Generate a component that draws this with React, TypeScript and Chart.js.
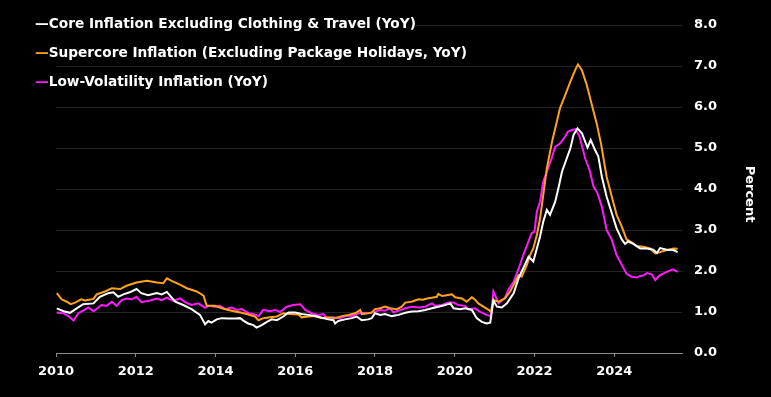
import React, { useEffect, useRef } from "react";
import { Chart, registerables } from "chart.js";

Chart.register(...registerables);

const FONT = "'DejaVu Sans', sans-serif";

const seriesNames = [
  "Core Inflation Excluding Clothing & Travel (YoY)",
  "Supercore Inflation (Excluding Package Holidays, YoY)",
  "Low-Volatility Inflation (YoY)",
];
const seriesColors = ["#ffffff", "#ffa31a", "#ff19ff"];

const xTickYears = [2010, 2012, 2014, 2016, 2018, 2020, 2022, 2024];
const yTickValues = [0, 1, 2, 3, 4, 5, 6, 7, 8];

const coreX = [2010.02, 2010.19, 2010.35, 2010.52, 2010.68, 2010.94, 2011.1, 2011.31, 2011.44, 2011.56, 2011.69, 2011.85, 2012.02, 2012.14, 2012.31, 2012.53, 2012.65, 2012.78, 2012.99, 2013.19, 2013.4, 2013.61, 2013.74, 2013.82, 2013.9, 2014.03, 2014.16, 2014.32, 2014.49, 2014.62, 2014.7, 2014.82, 2014.95, 2015.03, 2015.16, 2015.29, 2015.41, 2015.54, 2015.7, 2015.83, 2016.0, 2016.16, 2016.33, 2016.5, 2016.67, 2016.83, 2016.96, 2017.0, 2017.08, 2017.25, 2017.42, 2017.54, 2017.67, 2017.83, 2017.92, 2018.0, 2018.13, 2018.25, 2018.42, 2018.59, 2018.76, 2018.92, 2019.09, 2019.26, 2019.43, 2019.59, 2019.76, 2019.89, 2019.97, 2020.14, 2020.26, 2020.43, 2020.55, 2020.68, 2020.8, 2020.89, 2020.97, 2021.06, 2021.18, 2021.31, 2021.48, 2021.6, 2021.72, 2021.85, 2021.97, 2022.06, 2022.14, 2022.22, 2022.31, 2022.39, 2022.52, 2022.6, 2022.69, 2022.81, 2022.9, 2022.98, 2023.08, 2023.19, 2023.33, 2023.41, 2023.52, 2023.6, 2023.69, 2023.81, 2023.94, 2024.06, 2024.19, 2024.27, 2024.35, 2024.48, 2024.65, 2024.81, 2024.98, 2025.07, 2025.15, 2025.32, 2025.48, 2025.59];
const coreY = [1.09, 1.02, 0.98, 1.09, 1.19, 1.21, 1.37, 1.46, 1.48, 1.37, 1.43, 1.48, 1.56, 1.46, 1.41, 1.46, 1.43, 1.49, 1.25, 1.17, 1.07, 0.93, 0.7, 0.78, 0.74, 0.82, 0.85, 0.84, 0.84, 0.85, 0.79, 0.72, 0.68, 0.62, 0.68, 0.76, 0.82, 0.8, 0.89, 0.99, 0.99, 0.95, 0.93, 0.9, 0.86, 0.82, 0.8, 0.72, 0.78, 0.82, 0.85, 0.89, 0.8, 0.82, 0.85, 0.97, 0.93, 0.95, 0.9, 0.93, 0.98, 1.01, 1.02, 1.05, 1.09, 1.13, 1.17, 1.21, 1.09, 1.07, 1.09, 1.05, 0.85, 0.76, 0.72, 0.74, 1.28, 1.13, 1.11, 1.21, 1.46, 1.82, 2.07, 2.35, 2.23, 2.55, 2.84, 3.2, 3.49, 3.37, 3.69, 4.02, 4.42, 4.75, 4.99, 5.32, 5.48, 5.36, 5.01, 5.2, 4.95, 4.8, 4.3, 3.81, 3.41, 3.04, 2.77, 2.66, 2.72, 2.66, 2.55, 2.55, 2.52, 2.44, 2.56, 2.52, 2.51, 2.46];

const superX = [2010.02, 2010.14, 2010.27, 2010.37, 2010.48, 2010.63, 2010.73, 2010.94, 2011.02, 2011.23, 2011.4, 2011.61, 2011.77, 2012.02, 2012.28, 2012.53, 2012.69, 2012.78, 2012.9, 2013.11, 2013.28, 2013.53, 2013.7, 2013.78, 2013.99, 2014.16, 2014.32, 2014.49, 2014.66, 2014.82, 2014.99, 2015.08, 2015.2, 2015.37, 2015.54, 2015.7, 2015.87, 2016.08, 2016.16, 2016.33, 2016.5, 2016.67, 2016.83, 2017.0, 2017.17, 2017.33, 2017.5, 2017.63, 2017.67, 2017.83, 2017.92, 2018.0, 2018.13, 2018.25, 2018.38, 2018.55, 2018.67, 2018.76, 2018.92, 2019.09, 2019.21, 2019.3, 2019.43, 2019.55, 2019.59, 2019.68, 2019.8, 2019.93, 2020.01, 2020.18, 2020.3, 2020.43, 2020.51, 2020.59, 2020.72, 2020.85, 2020.91, 2020.97, 2021.1, 2021.26, 2021.39, 2021.5, 2021.6, 2021.68, 2021.81, 2021.89, 2021.97, 2022.06, 2022.14, 2022.22, 2022.31, 2022.44, 2022.56, 2022.64, 2022.77, 2022.9, 2023.02, 2023.09, 2023.19, 2023.31, 2023.44, 2023.56, 2023.67, 2023.81, 2023.94, 2024.06, 2024.19, 2024.31, 2024.44, 2024.56, 2024.73, 2024.9, 2025.03, 2025.15, 2025.32, 2025.49, 2025.59];
const superY = [1.46, 1.31, 1.25, 1.19, 1.23, 1.31, 1.28, 1.32, 1.43, 1.5, 1.58, 1.56, 1.64, 1.72, 1.76, 1.72, 1.7, 1.82, 1.76, 1.67, 1.58, 1.5, 1.4, 1.15, 1.15, 1.09, 1.05, 1.01, 0.98, 0.94, 0.89, 0.8, 0.85, 0.87, 0.89, 0.97, 0.95, 0.94, 0.87, 0.89, 0.9, 0.85, 0.87, 0.85, 0.9, 0.93, 0.97, 1.05, 0.95, 0.97, 0.99, 1.07, 1.09, 1.13, 1.09, 1.07, 1.13, 1.23, 1.25, 1.31, 1.3, 1.33, 1.35, 1.37, 1.44, 1.39, 1.41, 1.43, 1.36, 1.33, 1.25, 1.36, 1.3, 1.21, 1.13, 1.05, 1.01, 1.29, 1.25, 1.33, 1.5, 1.7, 1.9, 1.86, 2.15, 2.39, 2.55, 2.88, 3.28, 3.85, 4.5, 5.15, 5.64, 5.97, 6.29, 6.62, 6.9, 7.04, 6.9, 6.54, 6.05, 5.6, 5.1, 4.3, 3.81, 3.37, 3.08, 2.77, 2.7, 2.61, 2.59, 2.55, 2.43, 2.46, 2.51, 2.55, 2.54];

const lowVolX = [2010.02, 2010.19, 2010.31, 2010.44, 2010.56, 2010.69, 2010.81, 2010.94, 2011.02, 2011.14, 2011.27, 2011.4, 2011.52, 2011.65, 2011.77, 2011.9, 2012.02, 2012.14, 2012.36, 2012.53, 2012.65, 2012.78, 2012.94, 2013.11, 2013.24, 2013.4, 2013.57, 2013.74, 2013.82, 2013.99, 2014.11, 2014.24, 2014.41, 2014.53, 2014.66, 2014.83, 2014.95, 2015.08, 2015.2, 2015.37, 2015.5, 2015.62, 2015.79, 2015.95, 2016.13, 2016.25, 2016.41, 2016.58, 2016.71, 2016.79, 2016.96, 2017.12, 2017.25, 2017.42, 2017.58, 2017.75, 2017.87, 2018.0, 2018.13, 2018.25, 2018.38, 2018.46, 2018.59, 2018.76, 2018.92, 2019.09, 2019.26, 2019.43, 2019.51, 2019.68, 2019.84, 2019.97, 2020.09, 2020.26, 2020.34, 2020.51, 2020.63, 2020.8, 2020.91, 2020.97, 2021.1, 2021.26, 2021.35, 2021.48, 2021.6, 2021.72, 2021.85, 2021.93, 2022.0, 2022.06, 2022.14, 2022.22, 2022.31, 2022.43, 2022.52, 2022.64, 2022.77, 2022.84, 2022.94, 2023.03, 2023.13, 2023.27, 2023.39, 2023.48, 2023.58, 2023.69, 2023.81, 2023.94, 2024.06, 2024.19, 2024.31, 2024.44, 2024.56, 2024.65, 2024.73, 2024.82, 2024.94, 2025.03, 2025.15, 2025.32, 2025.47, 2025.59];
const lowVolY = [0.99, 0.97, 0.9, 0.79, 0.97, 1.04, 1.11, 1.02, 1.08, 1.17, 1.15, 1.25, 1.15, 1.29, 1.33, 1.31, 1.37, 1.24, 1.28, 1.33, 1.29, 1.35, 1.27, 1.33, 1.24, 1.17, 1.21, 1.1, 1.15, 1.13, 1.15, 1.07, 1.11, 1.05, 1.07, 0.97, 0.95, 0.9, 1.05, 1.02, 1.05, 1.0, 1.13, 1.17, 1.19, 1.05, 0.97, 0.93, 0.95, 0.85, 0.87, 0.85, 0.9, 0.9, 0.97, 0.98, 0.97, 1.01, 1.05, 1.03, 1.09, 0.99, 1.03, 1.09, 1.13, 1.11, 1.13, 1.21, 1.15, 1.17, 1.23, 1.23, 1.17, 1.15, 1.07, 1.09, 1.01, 0.93, 0.9, 1.5, 1.21, 1.35, 1.55, 1.74, 2.05, 2.39, 2.72, 2.92, 2.96, 3.45, 3.69, 4.18, 4.42, 4.75, 5.03, 5.11, 5.28, 5.4, 5.44, 5.46, 5.28, 4.75, 4.44, 4.06, 3.9, 3.57, 3.0, 2.76, 2.39, 2.15, 1.93, 1.86, 1.84, 1.88, 1.89, 1.95, 1.92, 1.78, 1.9, 1.98, 2.04, 1.98];

const xMin = 2010;
const xMax = 2025.7;
const yAxisTitle = "Percent";

function pts(xs: number[], ys: number[]) {
  return xs.map((x, i) => ({ x, y: ys[i] }));
}

export default function App() {
  const ref = useRef<HTMLCanvasElement>(null);

  useEffect(() => {
    document.body.style.margin = "0";
    document.body.style.background = "#000";
    const titlePlugin = {
      id: "percentTitle",
      afterDraw(chart: any) {
        const { ctx, chartArea } = chart;
        ctx.save();
        ctx.translate(chartArea.right + 67, (chartArea.top + chartArea.bottom) / 2 + 5);
        ctx.rotate(Math.PI / 2);
        ctx.fillStyle = "#ffffff";
        ctx.font = `bold 13px ${FONT}`;
        ctx.textAlign = "center";
        ctx.textBaseline = "middle";
        ctx.fillText(yAxisTitle, 0, 0);
        ctx.restore();
      },
    };
    const mk = (i: number, xs: number[], ys: number[]) => ({
      label: seriesNames[i],
      data: pts(xs, ys),
      borderColor: seriesColors[i],
      backgroundColor: seriesColors[i],
      borderWidth: 2,
      pointRadius: 0,
      tension: 0,
      fill: false,
    });
    const chart = new Chart(ref.current!, {
      type: "line",
      data: {
        datasets: [mk(0, coreX, coreY), mk(1, superX, superY), mk(2, lowVolX, lowVolY)],
      },
      plugins: [titlePlugin],
      options: {
        animation: false,
        responsive: false,
        maintainAspectRatio: false,
        layout: { padding: { left: 56, right: 0, top: 25, bottom: 0 } },
        plugins: { legend: { display: false }, tooltip: { enabled: false } },
        scales: {
          x: {
            type: "linear",
            min: xMin,
            max: xMax,
            afterBuildTicks: (s: any) => {
              s.ticks = xTickYears.map((v) => ({ value: v }));
            },
            afterFit: (s: any) => {
              s.height = 44;
            },
            grid: { drawOnChartArea: false, drawTicks: true, tickLength: 4, color: "#8a8a8a" },
            border: { display: true, color: "#8a8a8a", width: 1 },
            ticks: {
              color: "#ffffff",
              font: { family: FONT, size: 13, weight: "bold" },
              padding: 7,
              maxRotation: 0,
              autoSkip: false,
              callback: (v: any) => String(v),
            },
          },
          y: {
            position: "right",
            min: 0,
            max: 8,
            afterBuildTicks: (s: any) => {
              s.ticks = yTickValues.map((v) => ({ value: v }));
            },
            afterFit: (s: any) => {
              s.width = 89;
            },
            grid: {
              drawTicks: false,
              color: (c: any) => (c.tick && c.tick.value === 0 ? "#8a8a8a" : "#242424"),
              lineWidth: 1,
            },
            border: { display: false },
            ticks: {
              color: "#ffffff",
              font: { family: FONT, size: 13, weight: "bold" },
              padding: 12,
              callback: (v: any) => Number(v).toFixed(1),
            },
          },
        },
      },
    });
    return () => chart.destroy();
  }, []);

  return (
    <div style={{ position: "relative", width: 771, height: 397, background: "#000", overflow: "hidden" }}>
      <canvas ref={ref} width={771} height={397} style={{ position: "absolute", left: 0, top: 0 }} />
      <div style={{ position: "absolute", left: 35, top: 8.5, fontFamily: FONT, fontWeight: "bold", fontSize: 13.7, color: "#fff" }}>
        {seriesNames.map((n, i) => (
          <div key={n} style={{ height: 29.3, lineHeight: "29px" }}>
            <span style={{ background: "#000", whiteSpace: "nowrap" }}>
              <span style={{ color: seriesColors[i] }}>—</span>
              {n}
            </span>
          </div>
        ))}
      </div>
    </div>
  );
}
